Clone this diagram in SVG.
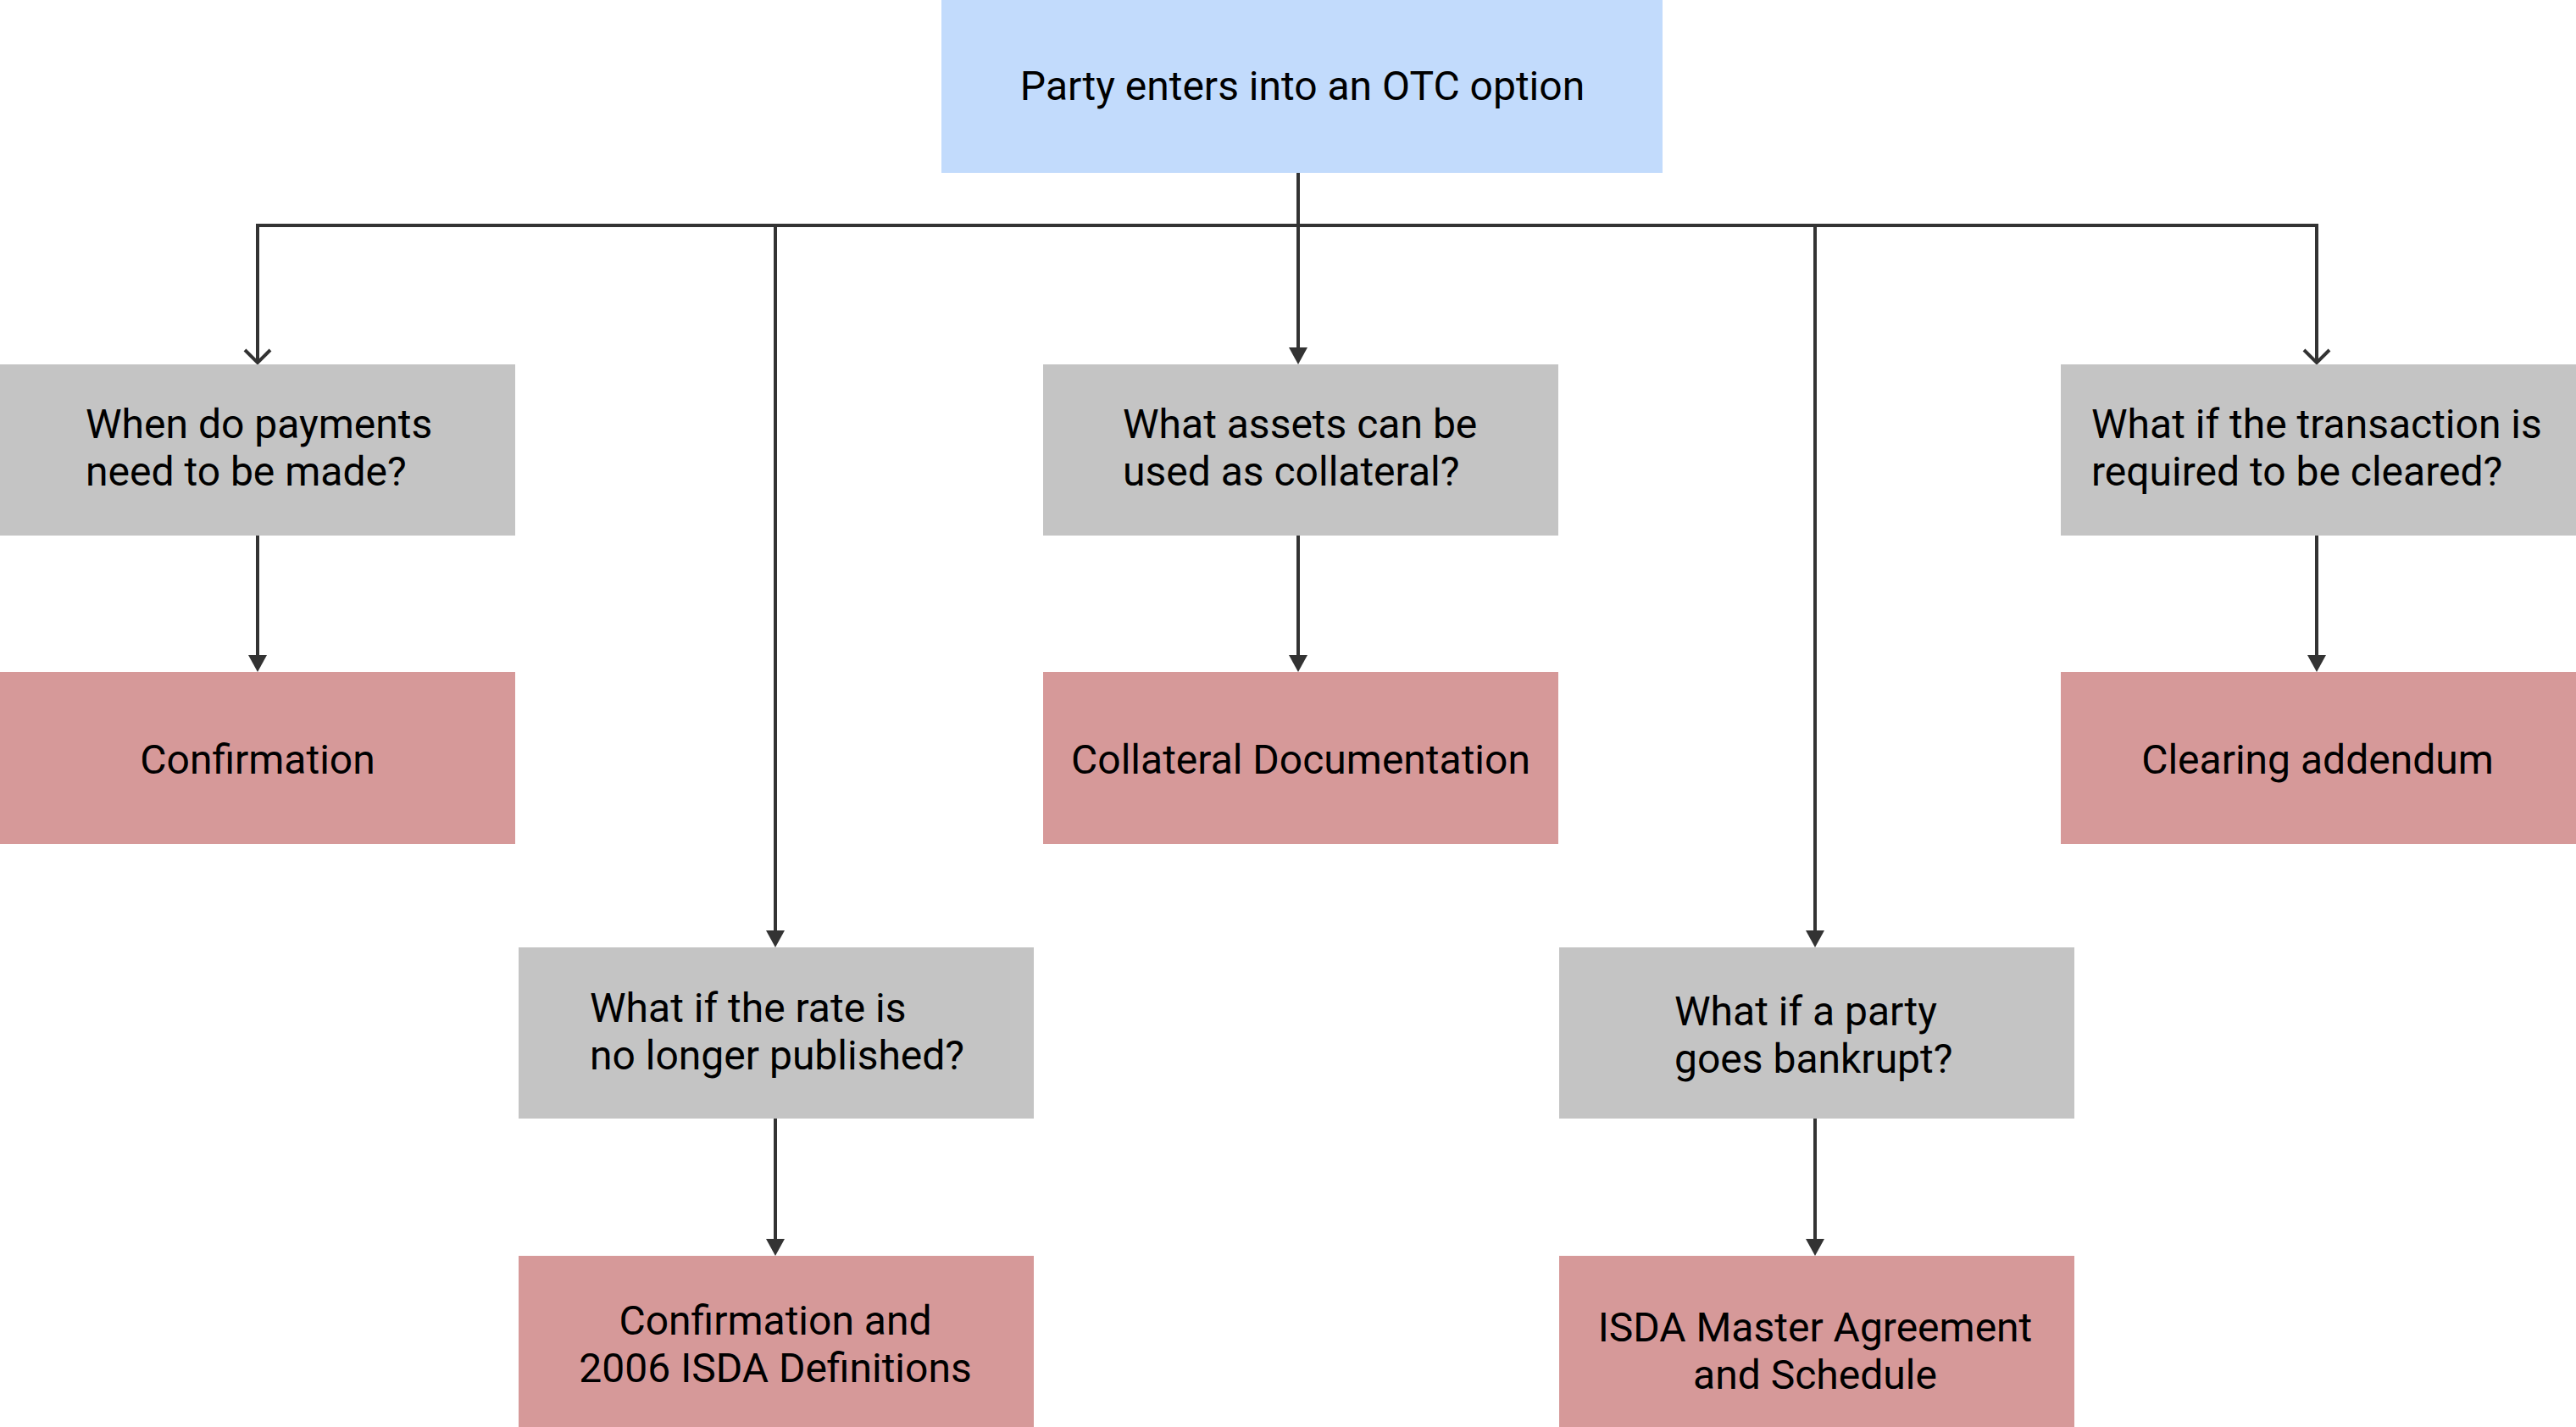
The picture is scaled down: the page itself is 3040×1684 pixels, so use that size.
<svg xmlns="http://www.w3.org/2000/svg" width="3040" height="1684" viewBox="0 0 3040 1684">
<style>
.t{font-family:Roboto,"Liberation Sans",sans-serif;font-size:48px;fill:#000}
.c{text-anchor:middle}
.blue{fill:#c2dbfc}
.gray{fill:#c4c4c4}
.red{fill:#d69999}
.ln{fill:none;stroke:#333;stroke-width:4}
</style>
<defs>
<marker id="fa" markerUnits="userSpaceOnUse" viewBox="0 0 20 22" refX="0" refY="11" markerWidth="20" markerHeight="22" orient="auto" overflow="visible">
<path d="M0,0 L20,11 L0,22 z" fill="#333"/>
</marker>
<marker id="oa" markerUnits="userSpaceOnUse" viewBox="0 0 16 30" refX="15" refY="15" markerWidth="16" markerHeight="30" orient="auto" overflow="visible">
<path d="M0,0 L15,15 L0,30" fill="none" stroke="#333" stroke-width="4"/>
</marker>
</defs>
<rect width="3040" height="1684" fill="#fff"/>
<g id="connectors">
<path class="ln" d="M1532,204 V410" marker-end="url(#fa)"/>
<path class="ln" d="M1532,266 H304 V428" marker-end="url(#oa)"/>
<path class="ln" d="M1532,266 H2734 V428" marker-end="url(#oa)"/>
<path class="ln" d="M915,266 V1098" marker-end="url(#fa)"/>
<path class="ln" d="M2142,266 V1098" marker-end="url(#fa)"/>
<path class="ln" d="M304,632 V773" marker-end="url(#fa)"/>
<path class="ln" d="M1532,632 V773" marker-end="url(#fa)"/>
<path class="ln" d="M2734,632 V773" marker-end="url(#fa)"/>
<path class="ln" d="M915,1320 V1462" marker-end="url(#fa)"/>
<path class="ln" d="M2142,1320 V1462" marker-end="url(#fa)"/>
</g>
<g id="n-start">
<rect class="blue" x="1111" y="0" width="851" height="204"/>
<text class="t c" x="1537" y="118">Party enters into an OTC option</text>
</g>
<g id="q-payments">
<rect class="gray" x="0" y="430" width="608" height="202"/>
<text class="t" x="101" y="517">When do payments</text>
<text class="t" x="101" y="573">need to be made?</text>
</g>
<g id="a-confirmation">
<rect class="red" x="0" y="793" width="608" height="203"/>
<text class="t c" x="304" y="913">Confirmation</text>
</g>
<g id="q-collateral">
<rect class="gray" x="1231" y="430" width="608" height="202"/>
<text class="t" x="1325" y="517">What assets can be</text>
<text class="t" x="1325" y="573">used as collateral?</text>
</g>
<g id="a-collateral">
<rect class="red" x="1231" y="793" width="608" height="203"/>
<text class="t c" x="1535" y="913">Collateral Documentation</text>
</g>
<g id="q-cleared">
<rect class="gray" x="2432" y="430" width="608" height="202"/>
<text class="t" x="2468" y="517">What if the transaction is</text>
<text class="t" x="2468" y="573">required to be cleared?</text>
</g>
<g id="a-clearing">
<rect class="red" x="2432" y="793" width="608" height="203"/>
<text class="t c" x="2735" y="913">Clearing addendum</text>
</g>
<g id="q-rate">
<rect class="gray" x="612" y="1118" width="608" height="202"/>
<text class="t" x="696" y="1206">What if the rate is</text>
<text class="t" x="696" y="1262">no longer published?</text>
</g>
<g id="a-definitions">
<rect class="red" x="612" y="1482" width="608" height="202"/>
<text class="t c" x="915" y="1575">Confirmation and</text>
<text class="t c" x="915" y="1631">2006 ISDA Definitions</text>
</g>
<g id="q-bankrupt">
<rect class="gray" x="1840" y="1118" width="608" height="202"/>
<text class="t" x="1976" y="1210">What if a party</text>
<text class="t" x="1976" y="1266">goes bankrupt?</text>
</g>
<g id="a-isda">
<rect class="red" x="1840" y="1482" width="608" height="202"/>
<text class="t c" x="2142" y="1583">ISDA Master Agreement</text>
<text class="t c" x="2142" y="1639">and Schedule</text>
</g>
</svg>
